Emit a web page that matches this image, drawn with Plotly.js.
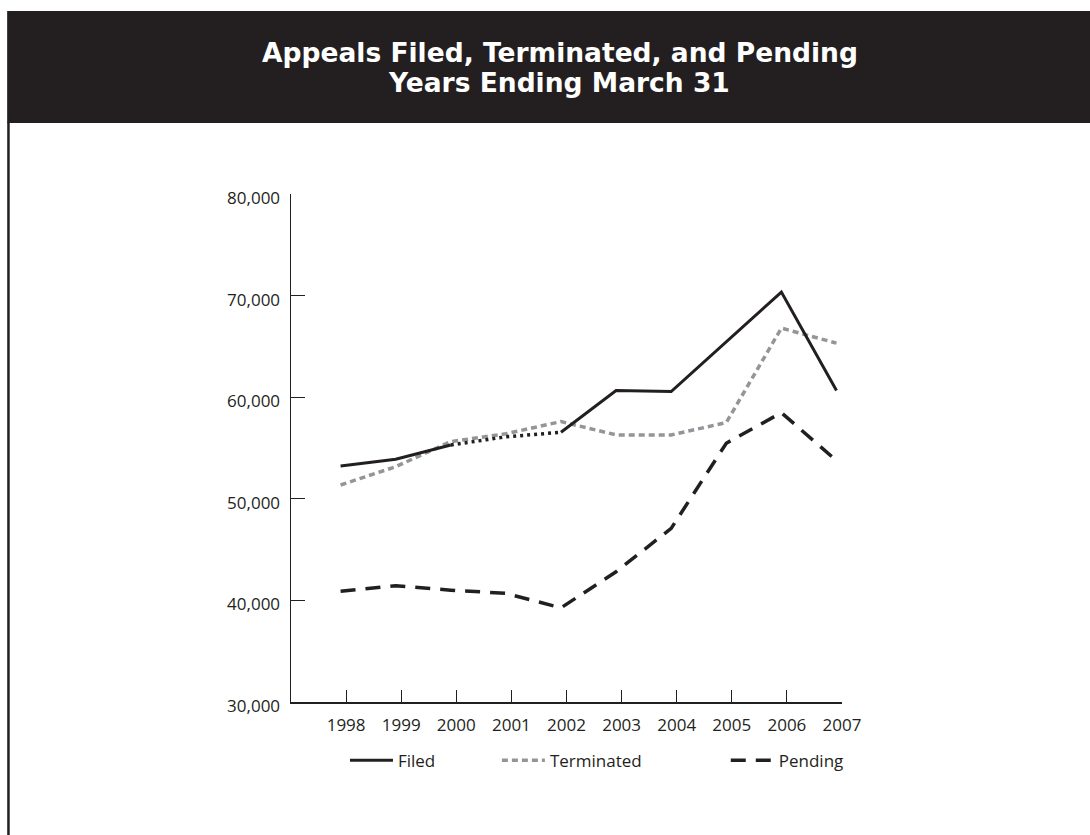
<!DOCTYPE html>
<html>
<head>
<meta charset="utf-8">
<script src="https://cdn.plot.ly/plotly-3.0.1.min.js"></script>
<style>
  html, body { margin: 0; padding: 0; background: #ffffff; }
  #chart { width: 1090px; height: 835px; }
</style>
</head>
<body>
<div id="chart"></div>
<script>
// ---- Data ----
const years = [1998, 1999, 2000, 2001, 2002, 2003, 2004, 2005, 2006, 2007];
const yearLabels = ["1998", "1999", "2000", "2001", "2002", "2003", "2004", "2005", "2006", "2007"];
const filed = [53230, 53890, 55300, 56100, 56550, 60650, 60550, 65450, 70350, 60650];
const terminated = [51360, 53160, 55630, 56400, 57600, 56290, 56290, 57500, 66800, 65320];
const pending = [40900, 41440, 41010, 40690, 39270, 42820, 47090, 55470, 58480, 53750];
const seriesNames = ["Filed", "Terminated", "Pending"];
const titleLine1 = "Appeals Filed, Terminated, and Pending";
const titleLine2 = "Years Ending March 31";

// ---- Layout geometry helpers (pixel -> paper) ----
const W = 1090, H = 835;
const plotL = 291, plotR = 842.3, plotT = 194, plotB = 702.3;
const px2x = px => (px - plotL) / (plotR - plotL);
const px2y = py => (plotB - py) / (plotB - plotT);

const ink = "#231f20";
const grey = "#939598";
const axisFont = { family: "Open Sans, sans-serif", size: 17, color: ink };

// Filed is drawn solid except 2000–2002 where the reference shows it dotted
const filedSolid = filed.map((v, i) => (i === 3 ? null : v));
const dotIdx = [2, 3, 4];

const traces = [
  {
    x: years, y: terminated, name: seriesNames[1], type: "scatter", mode: "lines",
    line: { color: grey, width: 3.5, dash: "6px,4px" }, legend: "legend2"
  },
  {
    x: years, y: filedSolid, name: seriesNames[0], type: "scatter", mode: "lines",
    connectgaps: false,
    line: { color: ink, width: 3 }, legend: "legend"
  },
  {
    x: dotIdx.map(i => years[i]), y: dotIdx.map(i => filed[i]), name: seriesNames[0],
    type: "scatter", mode: "lines", showlegend: false,
    line: { color: ink, width: 3.5, dash: "3px,4px" }
  },
  {
    x: years, y: pending, name: seriesNames[2], type: "scatter", mode: "lines",
    line: { color: ink, width: 3.5, dash: "15px,10px" }, legend: "legend3"
  }
];

const legendBase = {
  orientation: "h", yanchor: "middle", xanchor: "left", itemwidth: 43,
  y: px2y(761), font: axisFont, bgcolor: "rgba(0,0,0,0)", borderwidth: 0
};

const layout = {
  width: W, height: H,
  paper_bgcolor: "#ffffff", plot_bgcolor: "#ffffff",
  margin: { l: plotL, r: W - plotR, t: plotT, b: H - plotB, pad: 0 },
  showlegend: true,
  title: {
    text: titleLine1,
    font: { family: "DejaVu Sans, sans-serif", size: 26.5, color: "#ffffff", weight: 700 },
    x: 560 / W, xanchor: "center", xref: "container",
    y: 1 - 53 / H, yanchor: "middle", yref: "container"
  },
  annotations: [
    {
      text: titleLine2, showarrow: false,
      font: { family: "DejaVu Sans, sans-serif", size: 26.5, color: "#ffffff", weight: 700 },
      xref: "paper", yref: "paper", x: px2x(559.5), y: px2y(82.2),
      xanchor: "center", yanchor: "middle"
    }
  ],
  shapes: [
    { type: "rect", xref: "paper", yref: "paper", layer: "below",
      x0: px2x(7), x1: px2x(1095), y0: px2y(123), y1: px2y(11),
      fillcolor: ink, line: { width: 0 } },
    { type: "line", xref: "paper", yref: "paper", layer: "below",
      x0: px2x(8.3), x1: px2x(8.3), y0: px2y(122), y1: px2y(840),
      line: { color: ink, width: 2.5 } }
  ],
  xaxis: {
    range: [1997.1, 2007.1],
    tickmode: "array",
    tickvals: years.map(y => y + 0.1),
    ticktext: yearLabels,
    ticks: "inside", ticklen: 12, tickwidth: 1, tickcolor: ink,
    showline: true, linecolor: ink, linewidth: 1.5,
    showgrid: false, zeroline: false,
    tickfont: axisFont, ticklabelstandoff: 7,
    fixedrange: true
  },
  yaxis: {
    range: [30000, 80000],
    tickmode: "linear", tick0: 30000, dtick: 10000,
    tickformat: ",d",
    ticks: "inside", ticklen: 14, tickwidth: 1, tickcolor: ink,
    showline: true, linecolor: ink, linewidth: 1.5,
    showgrid: false, zeroline: false,
    tickfont: axisFont, ticklabelstandoff: 6, ticklabelshift: 4,
    fixedrange: true
  },
  legend: Object.assign({}, legendBase, { x: px2x(345) }),
  legend2: Object.assign({}, legendBase, { x: px2x(497) }),
  legend3: Object.assign({}, legendBase, { x: px2x(726) })
};

Plotly.newPlot("chart", traces, layout, { displayModeBar: false, staticPlot: true });
</script>
</body>
</html>
